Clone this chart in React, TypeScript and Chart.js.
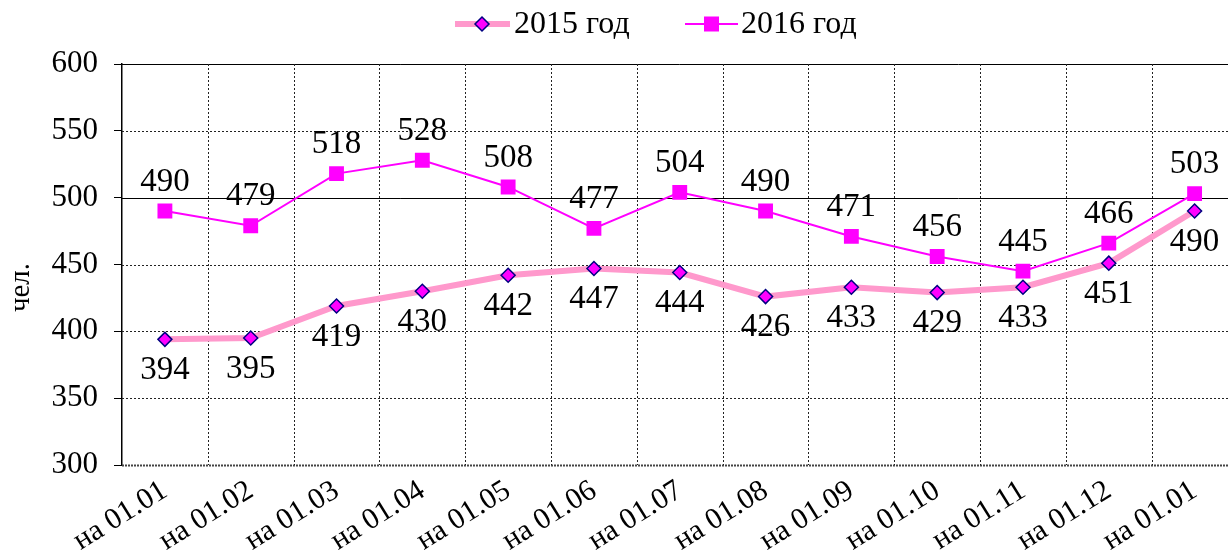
import React, { useEffect, useRef } from "react";
import { Chart, registerables } from "chart.js";

Chart.register(...registerables);

const categories = [
  "на 01.01", "на 01.02", "на 01.03", "на 01.04", "на 01.05", "на 01.06", "на 01.07",
  "на 01.08", "на 01.09", "на 01.10", "на 01.11", "на 01.12", "на 01.01",
];
const series2015 = [394, 395, 419, 430, 442, 447, 444, 426, 433, 429, 433, 451, 490];
const series2016 = [490, 479, 518, 528, 508, 477, 504, 490, 471, 456, 445, 466, 503];
const seriesNames = ["2015 год", "2016 год"];
const yTicks = [300, 350, 400, 450, 500, 550, 600];
const yTitle = "чел.";

const FONT = '"Liberation Serif", "Times New Roman", serif';
const PINK = "#FF99CC";
const MAGENTA = "#FF00FF";
const NAVY = "#000080";

const W = 1248;
const H = 553;

const customPlugin = {
  id: "customDecor",
  beforeDatasetsDraw(chart: any) {
    const { ctx, chartArea, scales } = chart;
    const x = scales.x;
    const y = scales.y;
    ctx.save();
    yTicks.forEach((v) => {
      const py = Math.round(y.getPixelForValue(v)) + 0.5;
      const solid = v === 500 || v === 600;
      ctx.beginPath();
      if (solid) {
        ctx.setLineDash([]);
        ctx.strokeStyle = "#000";
        ctx.lineWidth = 1;
      } else if (v === 300) {
        ctx.setLineDash([2, 1]);
        ctx.strokeStyle = "#444";
        ctx.lineWidth = 2;
      } else {
        ctx.setLineDash([2, 2]);
        ctx.strokeStyle = "#222";
        ctx.lineWidth = 1;
      }
      ctx.moveTo(chartArea.left, py);
      ctx.lineTo(chartArea.right, py);
      ctx.stroke();
    });
    ctx.setLineDash([2, 2]);
    ctx.strokeStyle = "#222";
    ctx.lineWidth = 1;
    for (let i = 1; i < categories.length; i++) {
      const px = Math.round((x.getPixelForValue(i - 1) + x.getPixelForValue(i)) / 2) + 0.5;
      ctx.beginPath();
      ctx.moveTo(px, chartArea.top);
      ctx.lineTo(px, chartArea.bottom);
      ctx.stroke();
    }
    ctx.restore();
  },
  afterDatasetsDraw(chart: any) {
    const { ctx } = chart;
    ctx.save();
    ctx.font = `33px ${FONT}`;
    ctx.fillStyle = "#000";
    ctx.textAlign = "center";
    ctx.textBaseline = "middle";
    chart.data.datasets.forEach((ds: any, di: number) => {
      const meta = chart.getDatasetMeta(di);
      meta.data.forEach((pt: any, i: number) => {
        const v = ds.data[i];
        const dy = di === 0 ? 31 : -29;
        ctx.fillText(String(v), pt.x, pt.y + dy);
      });
    });
    ctx.restore();
  },
  afterDraw(chart: any) {
    const { ctx, chartArea } = chart;
    ctx.save();
    ctx.font = `29px ${FONT}`;
    ctx.fillStyle = "#000";
    ctx.textAlign = "center";
    ctx.textBaseline = "middle";
    ctx.translate(21, (chartArea.top + chartArea.bottom) / 2 + 23);
    ctx.rotate(-Math.PI / 2);
    ctx.fillText(yTitle, 0, 0);
    ctx.restore();

    ctx.save();
    const ly = 24;
    ctx.beginPath();
    ctx.strokeStyle = PINK;
    ctx.lineWidth = 6;
    ctx.moveTo(455, ly);
    ctx.lineTo(510, ly);
    ctx.stroke();
    ctx.beginPath();
    ctx.moveTo(482, ly - 7);
    ctx.lineTo(489, ly);
    ctx.lineTo(482, ly + 7);
    ctx.lineTo(475, ly);
    ctx.closePath();
    ctx.fillStyle = MAGENTA;
    ctx.fill();
    ctx.strokeStyle = NAVY;
    ctx.lineWidth = 1.5;
    ctx.stroke();
    ctx.beginPath();
    ctx.strokeStyle = MAGENTA;
    ctx.lineWidth = 2;
    ctx.moveTo(685, ly);
    ctx.lineTo(738, ly);
    ctx.stroke();
    ctx.fillStyle = MAGENTA;
    ctx.fillRect(704, ly - 7.5, 15, 15);
    ctx.font = `32px ${FONT}`;
    ctx.fillStyle = "#000";
    ctx.textAlign = "left";
    ctx.textBaseline = "middle";
    ctx.fillText(seriesNames[0], 514, ly + 1);
    ctx.fillText(seriesNames[1], 741, ly + 1);
    ctx.restore();
  },
};

export default function App() {
  const ref = useRef<HTMLCanvasElement | null>(null);
  useEffect(() => {
    if (!ref.current) return;
    const chart = new Chart(ref.current, {
      type: "line",
      data: {
        labels: categories,
        datasets: [
          {
            label: seriesNames[0],
            data: series2015,
            borderColor: PINK,
            borderWidth: 6,
            pointStyle: "rectRot",
            pointRadius: 7,
            pointBackgroundColor: MAGENTA,
            pointBorderColor: NAVY,
            pointBorderWidth: 1.5,
            tension: 0,
            fill: false,
          },
          {
            label: seriesNames[1],
            data: series2016,
            borderColor: MAGENTA,
            borderWidth: 2,
            pointStyle: "rect",
            pointRadius: 10.5,
            pointBackgroundColor: MAGENTA,
            pointBorderColor: MAGENTA,
            pointBorderWidth: 0,
            tension: 0,
            fill: false,
          },
        ],
      },
      options: {
        responsive: false,
        animation: false,
        events: [],
        layout: { padding: { left: 0, right: 0, top: 64, bottom: 0 } },
        plugins: {
          legend: { display: false },
          tooltip: { enabled: false },
        },
        scales: {
          x: {
            type: "category",
            offset: true,
            grid: { display: false },
            border: { display: false },
            ticks: {
              autoSkip: false,
              minRotation: 32,
              maxRotation: 32,
              padding: 0,
              color: "#000",
              font: { family: FONT, size: 30 },
            },
            afterFit: (scale: any) => {
              scale.height = 88;
            },
          },
          y: {
            min: 300,
            max: 600,
            afterBuildTicks: (scale: any) => {
              scale.ticks = yTicks.map((v) => ({ value: v }));
            },
            grid: {
              drawOnChartArea: false,
              drawTicks: true,
              tickLength: 8,
              color: "#000",
            },
            border: { display: true, color: "#000", width: 1.5 },
            ticks: {
              padding: 16,
              color: "#000",
              font: { family: FONT, size: 31 },
            },
            afterFit: (scale: any) => {
              scale.width = 122;
            },
          },
        },
      },
      plugins: [customPlugin],
    });
    return () => chart.destroy();
  }, []);
  return (
    <div
      style={{
        position: "fixed",
        left: 0,
        top: 0,
        width: 1228,
        height: 553,
        overflow: "hidden",
        background: "#fff",
      }}
    >
      <canvas ref={ref} width={W} height={H} style={{ display: "block", width: W, height: H }} />
    </div>
  );
}
